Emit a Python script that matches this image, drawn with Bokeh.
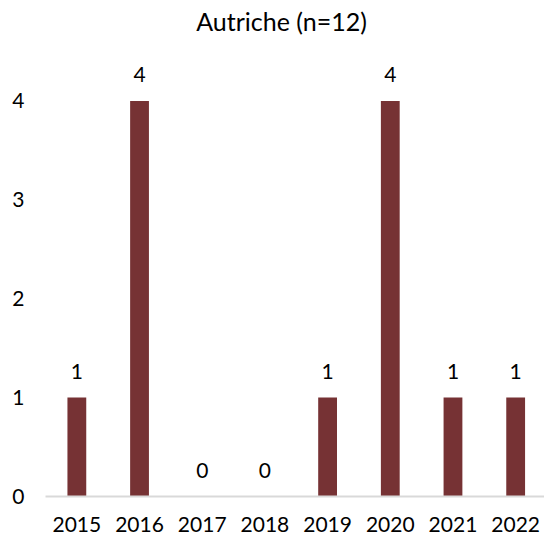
from bokeh.plotting import figure
from bokeh.models import ColumnDataSource, Range1d, FixedTicker, LabelSet, Label
from bokeh.core.properties import value
from bokeh.embed import file_html
from bokeh.resources import INLINE

years = ["2015", "2016", "2017", "2018", "2019", "2020", "2021", "2022"]
counts = [1, 4, 0, 0, 1, 4, 1, 1]
y_ticks = [0, 1, 2, 3, 4]
title_text = "Autriche (n=12)"

FONT = "Lato"
BAR = "#763234"

xs = list(range(len(years)))
source = ColumnDataSource(dict(x=xs, counts=counts, labels=[str(c) for c in counts]))

p = figure(width=544, height=534, output_backend="svg", toolbar_location=None,
           x_range=Range1d(-0.5, 7.46), y_range=Range1d(0, 5.015),
           min_border_left=45, min_border_right=0, min_border_bottom=35, min_border_top=0)

# chart title, placed in screen pixels relative to the plot frame
title = Label(x=236, y=476, x_units="screen", y_units="screen", text=title_text,
              text_align="center", text_baseline="middle",
              text_font=FONT, text_font_size="25px", text_color="#000000")
p.add_layout(title)

p.vbar(x="x", top="counts", bottom=0, width=0.30, source=source,
       fill_color=BAR, line_color=None)

labels = LabelSet(x="x", y="counts", text="labels", source=source,
                  y_offset=19, text_align="center", text_baseline="bottom",
                  text_font=value(FONT), text_font_size="21px", text_color="#000000")
p.add_layout(labels)

p.xgrid.visible = False
p.ygrid.visible = False
p.outline_line_color = None

xa = p.xaxis[0]
xa.ticker = FixedTicker(ticks=xs)
xa.major_label_overrides = {i: y for i, y in zip(xs, years)}
xa.axis_line_color = "#D9D9D9"
xa.axis_line_width = 2
xa.major_tick_line_color = None
xa.minor_tick_line_color = None
xa.major_tick_out = 0
xa.major_label_standoff = 20
xa.major_label_text_font = FONT
xa.major_label_text_font_size = "21px"
xa.major_label_text_color = "#000000"

ya = p.yaxis[0]
ya.ticker = FixedTicker(ticks=y_ticks)
ya.axis_line_color = None
ya.major_tick_line_color = None
ya.minor_tick_line_color = None
ya.major_tick_out = 0
ya.major_label_standoff = 21
ya.major_label_text_font = FONT
ya.major_label_text_font_size = "21px"
ya.major_label_text_color = "#000000"

open("out.html", "w").write(file_html(p, INLINE))
